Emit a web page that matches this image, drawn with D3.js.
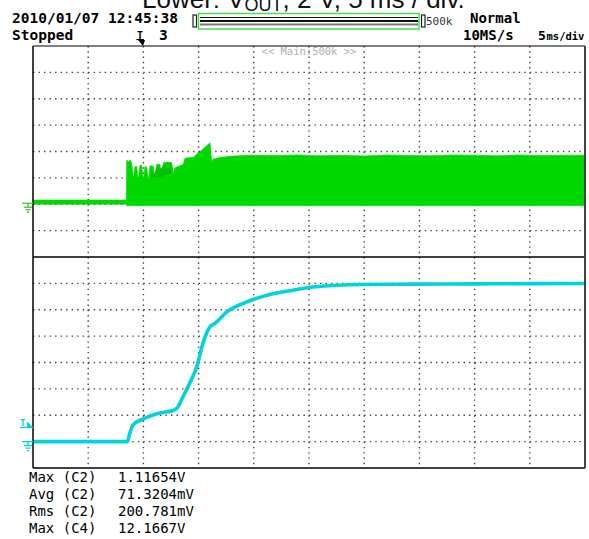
<!DOCTYPE html>
<html>
<head>
<meta charset="utf-8">
<script src="https://cdn.jsdelivr.net/npm/d3@7"></script>
<style>
  body { margin: 0; background: #fff; }
  svg { display: block; }
</style>
</head>
<body>
<div id="chart"></div>
<script>
var svgWidth = 589;
var svgHeight = 539;

// screen box
var box = { left: 33, right: 585, top: 46, mid: 257, bottom: 468 };

// time from the left edge of the screen, ms (5 ms/div, 10 div)
var timeTicks = [0, 5, 10, 15, 20, 25, 30, 35, 40, 45, 50];
// upper screen, C2 in volts (0.5 V/div)
var upperTicks = [-1, -0.5, 0, 0.5, 1, 1.5, 2, 2.5, 3];
// lower screen, C4 = V_OUT in volts (2 V/div)
var lowerTicks = [-2, 0, 2, 4, 6, 8, 10, 12, 14];

// C2 (green) envelope: time, top and bottom of the band
var greenTime = [0, 8.45, 8.49, 8.64, 8.8, 8.94, 9.09, 9.24, 9.39, 9.54, 9.69, 9.85, 9.99, 10.15, 10.3, 10.45,
  10.6, 10.9, 11.05, 11.2, 11.5, 11.66, 11.8, 12.2, 12.56, 12.71, 12.86, 13.2, 13.62, 13.77, 14.52, 15.3,
  16.03, 16.19, 16.33, 17.0, 18.14, 19.7, 22, 24, 26, 28, 30, 32, 34, 36, 38, 40, 42, 44, 46, 48, 50];
var greenHigh = [0.08, 0.08, 0.84, 0.80, 0.84, 0.78, 0.50, 0.71, 0.72, 0.46, 0.74, 0.74, 0.46, 0.72, 0.70, 0.46,
  0.73, 0.72, 0.46, 0.76, 0.76, 0.46, 0.79, 0.80, 0.79, 0.585, 0.69, 0.72, 0.76, 0.875, 0.89, 1.03,
  1.165, 0.805, 0.86, 0.89, 0.913, 0.93, 0.925, 0.935, 0.92, 0.93, 0.915, 0.935, 0.925, 0.92, 0.935, 0.93,
  0.92, 0.935, 0.925, 0.93, 0.93];
var greenLow = [0.0, 0.0, -0.03, -0.03, -0.03, -0.03, -0.03, -0.03, -0.03, -0.03, -0.03, -0.03, -0.03, -0.03, -0.03, -0.03,
  -0.03, -0.03, -0.03, -0.03, -0.03, -0.03, -0.03, -0.03, -0.03, -0.03, -0.03, -0.03, -0.03, -0.03, -0.03, -0.03,
  -0.03, -0.03, -0.03, -0.03, -0.03, -0.03, -0.03, -0.03, -0.03, -0.03, -0.03, -0.03, -0.03, -0.03, -0.03, -0.03,
  -0.03, -0.03, -0.03, -0.03, -0.03];

// darker (denser) patch inside the C2 burst
var denseTime = [10.7, 11.0, 11.2, 11.6, 11.8, 12.2, 12.5];
var denseHigh = [0.66, 0.58, 0.70, 0.68, 0.74, 0.76, 0.72];
var denseLow = [0.52, 0.50, 0.52, 0.50, 0.54, 0.56, 0.58];

// C4 (cyan) V_OUT
var cyanTime = [0, 8.56, 8.7, 9.06, 10.06, 11.5, 12.68, 13.05, 13.59, 14.2, 14.83, 15.4, 15.85, 16.12, 16.3,
  17.57, 19.38, 21.2, 23.55, 25.36, 29.9, 34.4, 40, 45, 49.9];
var cyanVolt = [0, 0, 0.42, 1.26, 1.75, 2.17, 2.36, 2.55, 3.40, 4.44, 5.67, 7.47, 8.45, 8.80, 8.87,
  9.84, 10.6, 11.1, 11.48, 11.73, 11.92, 11.94, 11.96, 11.98, 11.99];

var measNames = ["Max (C2)", "Avg (C2)", "Rms (C2)", "Max (C4)"];
var measValues = ["1.11654V", "71.3204mV", "200.781mV", "12.1667V"];

var green = "#00d800";
var cyan = "#00d3db";
var mono = "'DejaVu Sans Mono', monospace";

var svg = d3.select("#chart")
  .append("svg")
  .attr("width", svgWidth)
  .attr("height", svgHeight);

var x = d3.scaleLinear().domain([0, 50]).range([box.left, box.right]);
var yUp = d3.scaleLinear().domain([-1, 3]).range([box.mid, box.top]);
var yLow = d3.scaleLinear().domain([-2, 14]).range([box.bottom, box.mid]);

// title (cut off at the top of the picture)
var title = svg.append("text")
  .attr("x", 142).attr("y", 7.5)
  .style("font-family", "'Liberation Sans', Arial, sans-serif")
  .style("font-size", "26px")
  .attr("fill", "#111");
title.append("tspan").text("Lower: V");
title.append("tspan").attr("dy", 3.5).style("font-size", "18px").text("OUT");
title.append("tspan").attr("dy", -3.5).text(", 2 V, 5 ms / div.");

// header
function label(txt, px, py, size, weight, fill) {
  return svg.append("text").attr("x", px).attr("y", py)
    .style("font-family", mono).style("font-size", size + "px")
    .style("font-weight", weight || "bold")
    .attr("fill", fill || "#000").text(txt);
}
label("2010/01/07 12:45:38", 12, 23.3, 14.5);
label("Stopped", 12, 39.5, 14.5);
label("3", 159, 39.5, 14.5);
label("Normal", 470, 23.3, 14);
label("10MS/s", 463, 39.5, 14);
label("5", 538, 39.5, 13);
label("ms/div", 546.5, 39.5, 10.5);
label("500k", 426, 25, 11, "normal", "#333");

// zoom bar
svg.append("rect").attr("x", 193).attr("y", 15).attr("width", 3.5).attr("height", 12)
  .attr("fill", "none").attr("stroke", "#222").attr("stroke-width", 1.2);
svg.append("rect").attr("x", 421.5).attr("y", 15).attr("width", 3.5).attr("height", 12)
  .attr("fill", "none").attr("stroke", "#222").attr("stroke-width", 1.2);
svg.append("rect").attr("x", 198.5).attr("y", 13.5).attr("width", 220.5).attr("height", 15.5)
  .attr("fill", "#fff").attr("stroke", "#44e044").attr("stroke-width", 1.5);
[[17.5, 1, "#111"], [21, 2, "#111"], [24.5, 2, "#777"]].forEach(function(l) {
  svg.append("line").attr("x1", 200).attr("x2", 418).attr("y1", l[0]).attr("y2", l[0])
    .attr("stroke", l[2]).attr("stroke-width", l[1]);
});

// trigger position marker
label("T", 137, 38.5, 10, "bold");
svg.append("line").attr("x1", 136.5).attr("x2", 144).attr("y1", 39.5).attr("y2", 39.5)
  .attr("stroke", "#000").attr("stroke-width", 1);
svg.append("path").attr("d", "M138,40 L145,40 L143,46 Z").attr("fill", "#000");

// grid dots
var grid = svg.append("g");
timeTicks.slice(1, -1).forEach(function(t) {
  grid.append("line")
    .attr("x1", x(t)).attr("x2", x(t)).attr("y1", box.top).attr("y2", box.bottom)
    .attr("stroke", "#444").attr("stroke-width", 1.4)
    .attr("stroke-dasharray", "1.4 " + (26.375 / 5 - 1.4));
});
upperTicks.slice(1, -1).forEach(function(v) {
  grid.append("line")
    .attr("x1", box.left).attr("x2", box.right).attr("y1", yUp(v)).attr("y2", yUp(v))
    .attr("stroke", "#444").attr("stroke-width", 1.4)
    .attr("stroke-dasharray", "1.4 " + (5.52 - 1.4));
});
lowerTicks.slice(1, -1).forEach(function(v) {
  grid.append("line")
    .attr("x1", box.left).attr("x2", box.right).attr("y1", yLow(v)).attr("y2", yLow(v))
    .attr("stroke", "#444").attr("stroke-width", 1.4)
    .attr("stroke-dasharray", "1.4 " + (5.52 - 1.4));
});

svg.append("text").attr("x", (box.left + box.right) / 2).attr("y", 55).attr("text-anchor", "middle")
  .style("font-family", mono).style("font-size", "10.5px").attr("fill", "#b0b0b0")
  .text("<< Main:500k >>");

// C2 band
function band(ts, his, los, fill, sw) {
  var data = ts.map(function(t, i) { return { t: t, hi: his[i], lo: los[i] }; });
  svg.append("path").datum(data)
    .attr("fill", fill)
    .attr("stroke", fill).attr("stroke-width", sw)
    .attr("d", d3.area()
      .x(function(d) { return x(d.t); })
      .y0(function(d) { return yUp(d.lo); })
      .y1(function(d) { return yUp(d.hi); }));
}
band(greenTime, greenHigh, greenLow, green, 0.6);
band(denseTime, denseHigh, denseLow, "#00c000", 0);

// C4 trace
var cyanData = cyanTime.map(function(t, i) { return { t: t, v: cyanVolt[i] }; });
svg.append("path").datum(cyanData)
  .attr("fill", "none").attr("stroke", cyan).attr("stroke-width", 3.6)
  .attr("stroke-linejoin", "round")
  .attr("d", d3.line().curve(d3.curveMonotoneX)
    .x(function(d) { return x(d.t); })
    .y(function(d) { return yLow(d.v); }));

// frame
svg.append("line").attr("x1", box.left).attr("x2", box.right).attr("y1", box.top).attr("y2", box.top)
  .attr("stroke", "#000").attr("stroke-width", 1.2);
svg.append("line").attr("x1", box.left).attr("x2", box.right).attr("y1", box.mid).attr("y2", box.mid)
  .attr("stroke", "#000").attr("stroke-width", 1.5);
svg.append("line").attr("x1", box.left).attr("x2", box.right).attr("y1", box.bottom).attr("y2", box.bottom)
  .attr("stroke", "#000").attr("stroke-width", 1.5);
svg.append("line").attr("x1", box.left).attr("x2", box.left).attr("y1", box.top).attr("y2", box.bottom)
  .attr("stroke", "#000").attr("stroke-width", 1.5);
svg.append("line").attr("x1", box.right).attr("x2", box.right).attr("y1", box.top).attr("y2", box.bottom)
  .attr("stroke", "#444").attr("stroke-width", 2);

// ground markers
function ground(gy, color) {
  var g = svg.append("g").attr("stroke", color).attr("stroke-width", 1.3);
  g.append("line").attr("x1", 22).attr("x2", 33).attr("y1", gy).attr("y2", gy);
  g.append("line").attr("x1", 28).attr("x2", 28).attr("y1", gy).attr("y2", gy + 4);
  g.append("line").attr("x1", 24).attr("x2", 32).attr("y1", gy + 4).attr("y2", gy + 4);
  g.append("line").attr("x1", 25.5).attr("x2", 30.5).attr("y1", gy + 6.5).attr("y2", gy + 6.5);
  g.append("line").attr("x1", 27).attr("x2", 29).attr("y1", gy + 9).attr("y2", gy + 9);
}
ground(yUp(0) - 1, "#33cc33");
ground(yLow(0), cyan);

// trigger level marker
svg.append("text").attr("x", 20).attr("y", 426).style("font-family", mono)
  .style("font-size", "9px").style("font-weight", "bold").attr("fill", cyan).text("T");
svg.append("line").attr("x1", 20).attr("x2", 33).attr("y1", 427.5).attr("y2", 427.5)
  .attr("stroke", cyan).attr("stroke-width", 1.3);
svg.append("path").attr("d", "M27,421.5 L33,427.5 L27,427.5 Z").attr("fill", cyan);

// measurements
measNames.forEach(function(n, i) {
  var py = 481.7 + i * 17.1;
  label(n, 29, py, 14, "normal");
  label(measValues[i], 118, py, 14, "normal");
});
</script>
</body>
</html>
